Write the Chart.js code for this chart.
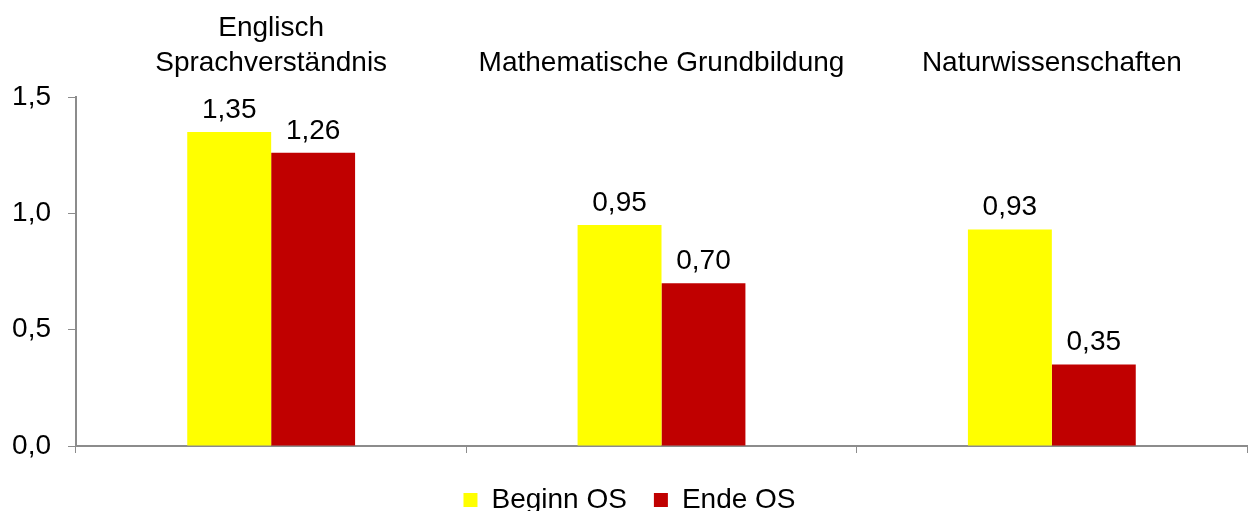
<!DOCTYPE html>
<html>
<head>
<meta charset="utf-8">
<script src="https://cdn.jsdelivr.net/npm/chart.js@4/dist/chart.umd.min.js"></script>
<style>
  html, body { margin: 0; padding: 0; background: #fff; overflow: hidden; }
  #wrap { width: 1249px; height: 524px; }
</style>
</head>
<body>
<div id="wrap"><canvas id="grafico" width="1249" height="524"></canvas></div>
<script>
// Dati del grafico
const categorie = [['Englisch', 'Sprachverständnis'], 'Mathematische Grundbildung', 'Naturwissenschaften'];
const beginnOS = [1.35, 0.95, 0.93];
const endeOS = [1.26, 0.70, 0.35];
const serieNomi = ['Beginn OS', 'Ende OS'];
const tickValori = [0, 0.5, 1.0, 1.5];

const FONT = { family: '"Liberation Sans", Arial, sans-serif', size: 28 };
const GRIGIO = '#8c8c8c';

// Formato tedesco con virgola
function formatoDe(v, dec) {
    return v.toFixed(dec).replace('.', ',');
}

// Plugin per scrivere i valori sopra le barre
const etichetteValori = {
    id: 'etichetteValori',
    afterDatasetsDraw(chart) {
        const ctx = chart.ctx;
        ctx.save();
        ctx.font = FONT.size + 'px ' + FONT.family;
        ctx.fillStyle = '#000';
        ctx.textAlign = 'center';
        ctx.textBaseline = 'bottom';
        chart.data.datasets.forEach((ds, i) => {
            chart.getDatasetMeta(i).data.forEach((bar, j) => {
                ctx.fillText(formatoDe(ds.data[j], 2), bar.x, bar.y - 8);
            });
        });
        ctx.restore();
    }
};

new Chart(document.getElementById('grafico'), {
    type: 'bar',
    data: {
        labels: categorie,
        datasets: [
            { label: serieNomi[0], data: beginnOS, backgroundColor: '#FFFF00', xAxisID: 'x' },
            { label: serieNomi[1], data: endeOS, backgroundColor: '#C00000', xAxisID: 'x' }
        ]
    },
    options: {
        responsive: false,
        animation: false,
        devicePixelRatio: 1,
        layout: { padding: { top: 0, left: 12, right: 2, bottom: 0 } },
        datasets: { bar: { barPercentage: 1, categoryPercentage: 0.43 } },
        plugins: {
            tooltip: { enabled: false },
            legend: {
                position: 'bottom',
                labels: {
                    color: '#000',
                    font: FONT,
                    boxWidth: 14,
                    boxHeight: 14,
                    padding: 27
                }
            }
        },
        scales: {
            x: {
                position: 'bottom',
                afterFit(axis) { axis.height += 6; },
                grid: { display: true, drawOnChartArea: false, drawTicks: true, tickLength: 7, color: GRIGIO, offset: true },
                border: { display: true, color: GRIGIO, width: 2 },
                ticks: { display: false }
            },
            x2: {
                type: 'category',
                position: 'top',
                labels: categorie,
                offset: true,
                afterFit(axis) { axis.height = 97; },
                grid: { display: false, drawTicks: false },
                border: { display: false },
                ticks: { color: '#000', font: { ...FONT, lineHeight: 1.25 }, padding: 16, maxRotation: 0, autoSkip: false }
            },
            y: {
                min: 0,
                max: 1.5,
                afterBuildTicks(axis) {
                    axis.ticks = tickValori.map(v => ({ value: v }));
                },
                afterFit(axis) { axis.width = 64; },
                grid: { display: true, drawOnChartArea: false, drawTicks: true, tickLength: 8, color: GRIGIO },
                border: { display: true, color: GRIGIO, width: 2 },
                ticks: {
                    color: '#000',
                    font: FONT,
                    padding: 17,
                    callback: v => formatoDe(v, 1)
                }
            }
        }
    },
    plugins: [etichetteValori]
});
</script>
</body>
</html>
